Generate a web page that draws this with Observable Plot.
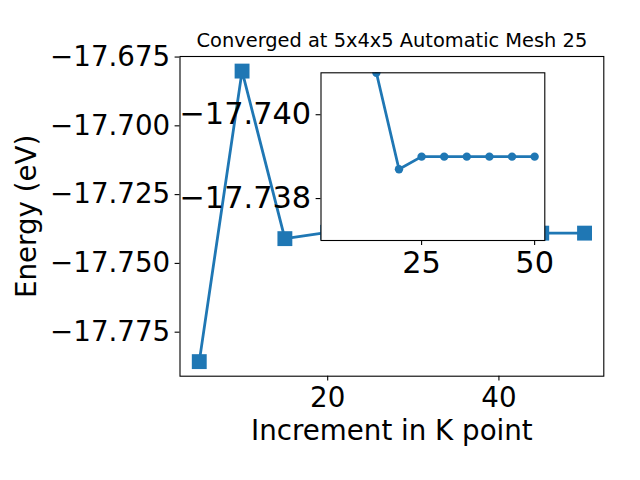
<!DOCTYPE html>
<html><head><meta charset="utf-8">
<script src="https://cdn.jsdelivr.net/npm/d3@7"></script>
<script src="https://cdn.jsdelivr.net/npm/@observablehq/plot@0.6"></script>
<style>
html,body{margin:0;padding:0;background:#fff;}
#chart{position:relative;width:640px;height:480px;overflow:hidden;background:#fff;}
#chart svg{position:absolute;left:0;top:0;}
</style></head><body><div id="chart"></div>
<script>
// ---- data ----
const kPoints = [5, 10, 15, 20, 25, 30, 35, 40, 45, 50];
const energies = [-17.7857, -17.6801, -17.7410, -17.7387, -17.7390, -17.7390, -17.7390, -17.7390, -17.7390, -17.7390];
const insetMinK = 15;
const titleText = "Converged at 5x4x5 Automatic Mesh 25";
const xLabel = "Increment in K point";
const yLabel = "Energy (eV)";
const mainXTicks = [20, 40];
const mainYTicks = [-17.775, -17.750, -17.725, -17.700, -17.675];
const insetXTicks = [25, 50];
const insetYTicks = [-17.740, -17.738];
const xDomain = [2.75, 52.25];
const mainYDomain = [-17.7910, -17.6748];
const insetYDomain = [-17.737, -17.741];

const data = kPoints.map((k, i) => ({k, e: energies[i]}));
const insetData = data.filter(d => d.k >= insetMinK);
const blue = "#1f77b4";
const font = "DejaVu Sans";
const fmt3 = d3.format(".3f");
const fmtInt = d3.format("d");
const style = {fontFamily: font, background: "transparent", overflow: "visible"};

const main = Plot.plot({
  width: 640, height: 480,
  marginLeft: 179.5, marginRight: 36.7, marginTop: 56, marginBottom: 104.3,
  style,
  x: {domain: xDomain},
  y: {domain: mainYDomain},
  marks: [
    Plot.line(data, {x: "k", y: "e", stroke: blue, strokeWidth: 2.8}),
    Plot.dot(data, {x: "k", y: "e", symbol: "square", fill: blue, r: 8.4}),
    Plot.frame({stroke: "black", strokeWidth: 1.1}),
    Plot.axisX({ticks: mainXTicks, tickSize: 4.9, tickPadding: 6, fontSize: 27.7, tickFormat: fmtInt, label: null, strokeWidth: 1.1}),
    Plot.axisY({ticks: mainYTicks, tickSize: 4.9, tickPadding: 4.9, fontSize: 27.7, tickFormat: fmt3, label: null, strokeWidth: 1.1}),
    Plot.text([titleText], {text: d => d, frameAnchor: "top", dy: -15.5, fontSize: 19.4, lineAnchor: "middle"}),
    Plot.text([xLabel], {text: d => d, frameAnchor: "bottom", dy: 55, fontSize: 27.7, lineAnchor: "middle"}),
    Plot.text([yLabel], {text: d => d, frameAnchor: "left", dx: -153, rotate: -90, fontSize: 27.7, textAnchor: "middle", lineAnchor: "middle"})
  ]
});

const inset = Plot.plot({
  width: 640, height: 480,
  marginLeft: 320.5, marginRight: 95.7, marginTop: 72.3, marginBottom: 240,
  style,
  x: {domain: xDomain},
  y: {domain: insetYDomain},
  marks: [
    Plot.frame({fill: "white"}),
    Plot.line(insetData, {x: "k", y: "e", stroke: blue, strokeWidth: 2.8, clip: true}),
    Plot.dot(insetData, {x: "k", y: "e", fill: blue, r: 4.2, clip: true}),
    Plot.frame({stroke: "black", strokeWidth: 1.1}),
    Plot.axisX({ticks: insetXTicks, tickSize: 4.9, tickPadding: 6, fontSize: 30.4, tickFormat: fmtInt, label: null, strokeWidth: 1.1}),
    Plot.axisY({ticks: insetYTicks, tickSize: 4.9, tickPadding: 4.9, fontSize: 30.4, tickFormat: fmt3, label: null, strokeWidth: 1.1})
  ]
});

document.getElementById("chart").append(main, inset);
</script>
</body></html>
